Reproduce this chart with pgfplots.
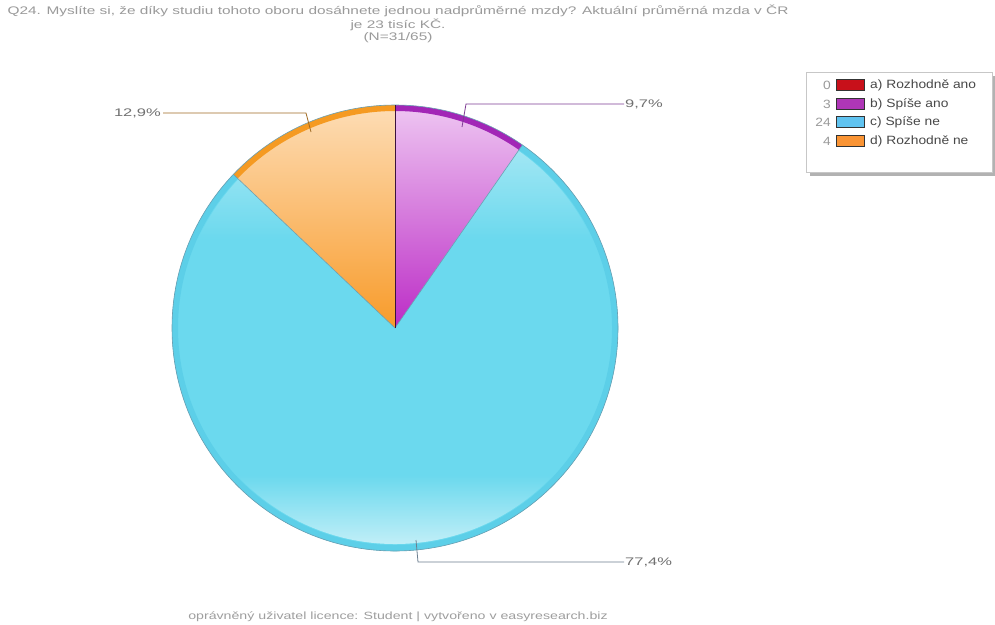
\documentclass[border=0pt]{standalone}
\usepackage{pgfplots}
\pgfplotsset{compat=1.18}
\usepackage{pgfplotstable}
\usepackage{graphicx}
\usepackage{fontspec}
\setmainfont{Liberation Sans}
\usetikzlibrary{fadings}

\definecolor{cRed}{HTML}{C8101A}
\definecolor{cPurple}{HTML}{C23CCB}
\definecolor{cPurpleTop}{HTML}{EEC6F2}
\definecolor{cPurpleBot}{HTML}{BC2CC6}
\definecolor{cPurpleRim}{HTML}{A226B6}
\definecolor{cCyan}{HTML}{6BD9EE}
\definecolor{cCyanRim}{HTML}{5CCFE8}
\definecolor{cOrange}{HTML}{F9A43A}
\definecolor{cOrangeTop}{HTML}{FDDDB6}
\definecolor{cOrangeBot}{HTML}{F89B2A}
\definecolor{cOrangeRim}{HTML}{F59A22}
\definecolor{cOutline}{HTML}{6A9FB2}
\definecolor{cTitle}{HTML}{9A9A9A}
\definecolor{cLabel}{HTML}{707070}
\definecolor{cLegText}{HTML}{484848}
\definecolor{lPurple}{HTML}{7E3C94}
\definecolor{lOrange}{HTML}{A06A22}
\definecolor{lCyan}{HTML}{6C7F90}

\tikzfading[name=glowtop, top color=transparent!45, bottom color=transparent!100]
\tikzfading[name=glowbot, top color=transparent!100, bottom color=transparent!40]

\pgfplotstableread{
id count
a 0
b 3
c 24
d 4
}\answers

\pgfplotstablegetelem{0}{count}\of\answers \edef\na{\pgfplotsretval}
\pgfplotstablegetelem{1}{count}\of\answers \edef\nb{\pgfplotsretval}
\pgfplotstablegetelem{2}{count}\of\answers \edef\nc{\pgfplotsretval}
\pgfplotstablegetelem{3}{count}\of\answers \edef\nd{\pgfplotsretval}
\pgfmathsetmacro{\total}{\na+\nb+\nc+\nd}
\pgfmathsetmacro{\bEnd}{90-360*\nb/\total}
\pgfmathsetmacro{\cEnd}{\bEnd-360*\nc/\total}
\pgfmathsetmacro{\dEnd}{\cEnd-360*\nd/\total}

\newcommand{\ttl}[1]{\scalebox{1.4}[1]{\fontsize{11}{13}\selectfont #1}}
\newcommand{\lab}[1]{\scalebox{1.5}[1]{\fontsize{11}{13}\selectfont #1}}
\newcommand{\leg}[1]{\scalebox{1.15}[1]{\fontsize{12}{14}\selectfont #1}}
\newcommand{\ftr}[1]{\scalebox{1.35}[1]{\fontsize{10.5}{12}\selectfont #1}}

\begin{document}
\begin{tikzpicture}
\begin{axis}[scale only axis, width=995pt, height=624pt,
  xmin=0, xmax=995, ymin=0, ymax=624, y dir=reverse,
  hide axis, clip=false]
% canvas
\fill[white] (axis cs:0,0) rectangle (axis cs:995,624);
% wedges
\shade[top color=cPurpleTop, bottom color=cPurpleBot] (axis cs:395,328) -- ++(90:223pt) arc[start angle=90, end angle=\bEnd, radius=223pt] -- cycle;
\fill[cCyan] (axis cs:395,328) -- ++(\bEnd:223pt) arc[start angle=\bEnd, end angle=\cEnd, radius=223pt] -- cycle;
\shade[top color=cOrangeTop, bottom color=cOrangeBot] (axis cs:395,328) -- ++(\cEnd:223pt) arc[start angle=\cEnd, end angle=\dEnd, radius=223pt] -- cycle;
% gloss on the cyan wedge
\begin{scope}
\clip (axis cs:395,328) -- ++(\bEnd:216pt) arc[start angle=\bEnd, end angle=\cEnd, radius=216pt] -- cycle;
\fill[white, path fading=glowtop] (axis cs:160,105) rectangle (axis cs:630,240);
\fill[white, path fading=glowbot] (axis cs:160,475) rectangle (axis cs:630,546);
\end{scope}
% rims
\draw[cPurpleRim, line width=6pt] (axis cs:395,328) ++(90:220pt) arc[start angle=90, end angle=\bEnd, radius=220pt];
\draw[cCyanRim, line width=6pt] (axis cs:395,328) ++(\bEnd:220pt) arc[start angle=\bEnd, end angle=\cEnd, radius=220pt];
\draw[cOrangeRim, line width=6pt] (axis cs:395,328) ++(\cEnd:220pt) arc[start angle=\cEnd, end angle=\dEnd, radius=220pt];
% separators and outline
\draw[cOutline, line width=0.6pt] (axis cs:395,328) circle[radius=223pt];
\draw[cOutline, line width=0.6pt] (axis cs:395,328) -- ++(\bEnd:223pt);
\draw[cOutline, line width=0.6pt] (axis cs:395,328) -- ++(\cEnd:223pt);
\draw[black!70!cPurple, line width=0.7pt] (axis cs:395,328) -- ++(90:223pt);
% leader lines
\draw[lPurple, line width=0.8pt] (axis cs:462,127) -- (axis cs:466,104) -- (axis cs:624,104);
\node[anchor=west, inner sep=0pt, text=cLabel] at (axis cs:625,104) {\lab{9,7\%}};
\draw[lOrange, line width=0.8pt] (axis cs:311,132) -- (axis cs:306,113) -- (axis cs:163,113);
\node[anchor=east, inner sep=0pt, text=cLabel] at (axis cs:161,113) {\lab{12,9\%}};
\draw[lCyan, line width=0.8pt] (axis cs:416,540) -- (axis cs:418,562) -- (axis cs:624,562);
\node[anchor=west, inner sep=0pt, text=cLabel] at (axis cs:625,562) {\lab{77,4\%}};
% title
\node[text=cTitle, inner sep=0pt] at (axis cs:398,11) {\ttl{Q24. Myslíte si, že díky studiu tohoto oboru dosáhnete jednou nadprůměrné mzdy? Aktuální průměrná mzda v ČR}};
\node[text=cTitle, inner sep=0pt] at (axis cs:398,25) {\ttl{je 23 tisíc KČ.}};
\node[text=cTitle, inner sep=0pt] at (axis cs:398,38) {\ttl{(N=31/65)}};
% legend
\fill[black!30] (axis cs:810,76) rectangle (axis cs:995,176);
\draw[black!22, fill=white] (axis cs:806,72) rectangle (axis cs:992,172);
\draw[black!80, fill=cRed] (axis cs:836,79) rectangle (axis cs:864,90);
\draw[black!80, fill=cPurple!90!black] (axis cs:836,98) rectangle (axis cs:864,109);
\draw[black!80, fill=cCyan!90!blue] (axis cs:836,116) rectangle (axis cs:864,127);
\draw[black!80, fill=cOrange!90!red] (axis cs:836,135) rectangle (axis cs:864,146);
\node[anchor=east, inner sep=0pt, text=cTitle] at (axis cs:831,85) {\leg{0}};
\node[anchor=east, inner sep=0pt, text=cTitle] at (axis cs:831,104) {\leg{3}};
\node[anchor=east, inner sep=0pt, text=cTitle] at (axis cs:831,122) {\leg{24}};
\node[anchor=east, inner sep=0pt, text=cTitle] at (axis cs:831,141) {\leg{4}};
\node[anchor=west, inner sep=0pt, text=cLegText] at (axis cs:870,85) {\leg{a) Rozhodně ano}};
\node[anchor=west, inner sep=0pt, text=cLegText] at (axis cs:870,104) {\leg{b) Spíše ano}};
\node[anchor=west, inner sep=0pt, text=cLegText] at (axis cs:870,122) {\leg{c) Spíše ne}};
\node[anchor=west, inner sep=0pt, text=cLegText] at (axis cs:870,141) {\leg{d) Rozhodně ne}};
% footer
\node[text=black!38, inner sep=0pt] at (axis cs:398,617) {\ftr{oprávněný uživatel licence: Student | vytvořeno v easyresearch.biz}};
\end{axis}
\end{tikzpicture}
\end{document}
